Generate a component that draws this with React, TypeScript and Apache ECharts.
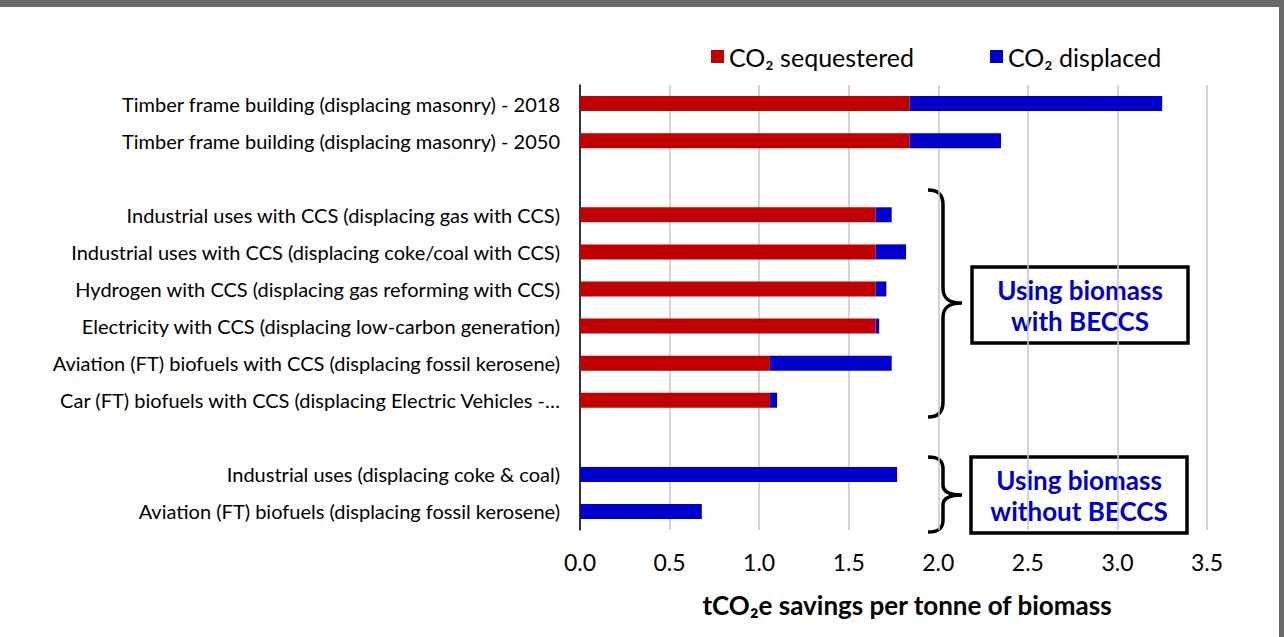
import React, { useEffect, useRef } from "react";
import * as echarts from "echarts";

const categories = [
  "Timber frame building (displacing masonry) - 2018",
  "Timber frame building (displacing masonry) - 2050",
  " ",
  "Industrial uses with CCS (displacing gas with CCS)",
  "Industrial uses with CCS (displacing coke/coal with CCS)",
  "Hydrogen with CCS (displacing gas reforming with CCS)",
  "Electricity with CCS (displacing low-carbon generation)",
  "Aviation (FT) biofuels with CCS (displacing fossil kerosene)",
  "Car (FT) biofuels with CCS (displacing Electric Vehicles - 2050)",
  "  ",
  "Industrial uses (displacing coke & coal)",
  "Aviation (FT) biofuels (displacing fossil kerosene)",
];
const sequestered = [1.84, 1.84, null, 1.65, 1.65, 1.65, 1.65, 1.06, 1.06, null, null, null];
const displaced = [1.41, 0.51, null, 0.09, 0.17, 0.06, 0.02, 0.68, 0.04, null, 1.77, 0.68];
const xTicks = { min: 0, max: 3.5, interval: 0.5 };
const seriesNames = ["CO₂ sequestered", "CO₂ displaced"];
const groupLabels = ["Using biomass\nwith BECCS", "Using biomass\nwithout BECCS"];
const axisTitle = "tCO₂e savings per tonne of biomass";

const FONT = "Lato";

echarts.graphic.registerShape(
  "braceBig",
  echarts.graphic.extendPath(
    "M0,0 C10,0 15,4 15,15 L15,98 C15,108 20,113 34,113 C20,113 15,118 15,128 L15,212 C15,222 10,227 0,227",
    {}
  )
);
echarts.graphic.registerShape(
  "braceSmall",
  echarts.graphic.extendPath(
    "M0,0 C10,0 15,3 15,12 L15,28 C15,34 20,38 34,38 C20,38 15,42 15,48 L15,63 C15,72 10,75 0,75",
    {}
  )
);

export default function App() {
  const ref = useRef<HTMLDivElement>(null);
  useEffect(() => {
    document.body.style.margin = "0";
    const chart = echarts.init(ref.current!, null, { renderer: "svg" });
    const boxStyle = { fill: "#fff", stroke: "#000", lineWidth: 3.5 };
    const txtStyle = {
      fill: "#0000cc",
      font: `bold 26px ${FONT}`,
      align: "center",
      verticalAlign: "middle",
      lineHeight: 31,
    };
    chart.setOption({
      animation: false,
      backgroundColor: "#fff",
      textStyle: { fontFamily: FONT },
      legend: {
        left: 711,
        top: 44,
        padding: 0,
        itemWidth: 13,
        itemHeight: 13,
        itemGap: 76,
        icon: "rect",
        textStyle: { fontSize: 25, color: "#000", fontFamily: FONT },
        data: seriesNames,
      },
      grid: { left: 580, right: 77, top: 85, bottom: 107 },
      xAxis: {
        type: "value",
        min: xTicks.min,
        max: xTicks.max,
        interval: xTicks.interval,
        axisLine: { show: false },
        axisTick: { show: false },
        splitLine: { lineStyle: { color: "#c6c6c6", width: 1.5 } },
        axisLabel: {
          fontSize: 23,
          color: "#000",
          margin: 20,
          formatter: (v: number) => v.toFixed(1),
        },
        name: axisTitle,
        nameLocation: "middle",
        nameGap: 62,
        nameTextStyle: { fontSize: 26, fontWeight: "bold", color: "#000", padding: [0, 0, 0, 27] },
      },
      yAxis: {
        type: "category",
        inverse: true,
        data: categories,
        axisLine: { lineStyle: { color: "#000", width: 1.5 } },
        axisTick: { length: 6, lineStyle: { color: "#000", width: 1.5 } },
        axisLabel: {
          fontSize: 20,
          color: "#000",
          margin: 20,
          formatter: (v: string) => (v.length > 60 ? v.slice(0, 58) + "…" : v),
        },
      },
      series: [
        {
          name: seriesNames[0],
          type: "bar",
          stack: "total",
          barWidth: 15,
          data: sequestered,
          itemStyle: { color: "#c00000" },
        },
        {
          name: seriesNames[1],
          type: "bar",
          stack: "total",
          barWidth: 15,
          data: displaced,
          itemStyle: { color: "#0000cc" },
        },
      ],
      graphic: [
        { type: "rect", shape: { x: 0, y: 0, width: 1284, height: 7 }, style: { fill: "#6a6967" } },
        { type: "rect", shape: { x: 1279, y: 0, width: 5, height: 637 }, style: { fill: "#6a6967" } },
        { type: "braceBig", x: 928, y: 190, style: { fill: "none", stroke: "#000", lineWidth: 3.5 } },
        { type: "braceSmall", x: 928, y: 457, style: { fill: "none", stroke: "#000", lineWidth: 3.5 } },
        { type: "rect", shape: { x: 972, y: 267, width: 216, height: 76 }, style: boxStyle },
        { type: "text", x: 1080, y: 305, style: { text: groupLabels[0], ...txtStyle } },
        { type: "rect", shape: { x: 971, y: 457, width: 216, height: 76 }, style: boxStyle },
        { type: "text", x: 1079, y: 495, style: { text: groupLabels[1], ...txtStyle } },
      ],
    });
    return () => chart.dispose();
  }, []);
  return <div ref={ref} style={{ width: 1284, height: 637 }} />;
}
